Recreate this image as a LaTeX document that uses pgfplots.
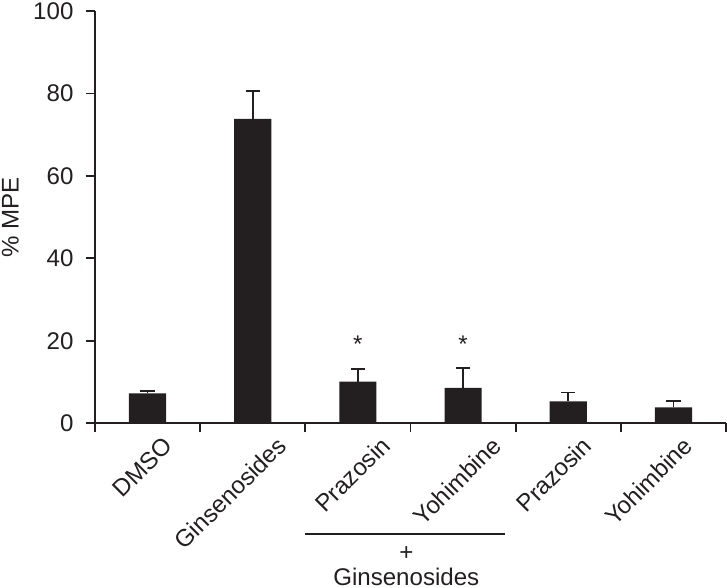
\documentclass[border=0pt]{standalone}
\usepackage{pgfplots}
\pgfplotsset{compat=1.18}
\usepackage{fontspec}
\setmainfont{Liberation Sans}
\definecolor{ink}{HTML}{231F20}
% shift a rotated tick label to the right by about sqrt(2)*#1
\newcommand\lab[2]{\raisebox{-#1}[0pt][0pt]{#2\hspace*{-#1}}}

\pgfplotstableread{
x  y     e
0  7.3   0.5
1  73.8  6.7
2  10.1  3.1
3  8.6   4.9
4  5.35  2.15
5  3.9   1.45
}\mpe

\begin{document}
\begin{tikzpicture}[font=\fontsize{12}{14}\selectfont]
\begin{axis}[
    scale only axis,
    width=314.5pt, height=205.5pt,
    xmin=-0.5, xmax=5.5,
    ymin=0, ymax=100,
    axis lines=left,
    axis line style={-, line width=0.9pt, ink},
    tick align=outside,
    major tick length=4.5pt,
    tick style={line width=0.9pt, ink},
    ytick={0,20,...,100},
    xtick={-0.5,0.5,...,5.5},
    x tick label as interval,
    xticklabels={\lab{9.4pt}{DMSO},\lab{12.5pt}{Ginsenosides},\lab{12pt}{Prazosin},\lab{14pt}{Yohimbine},\lab{8.8pt}{Prazosin},\lab{7.3pt}{Yohimbine},{}},
    ticklabel style={font=\fontsize{12}{14}\selectfont, text=ink},
    xticklabel style={yshift=-7.5pt, rotate=45, anchor=base east, inner sep=0pt},
    yticklabel style={inner sep=1.2pt, xshift=-4.8pt},
    /pgf/number format/assume math mode=true,
    ylabel={\% MPE},
    ylabel style={font=\fontsize{12}{14}\selectfont, text=ink, inner sep=1pt,
        at={(axis description cs:-0.151,0.5)}, anchor=north},
    ybar, bar width=18.5pt,
    clip=false,
]
\addplot[fill=ink, draw=none,
    error bars/.cd, y dir=plus, y explicit,
    error bar style={line width=0.9pt, ink},
    error mark options={rotate=90, mark size=3.5pt, line width=0.9pt, ink}]
    table[x=x, y=y, y error=e] {\mpe};
\node[anchor=base, text=ink] at (axis cs:2,17.3) {*};
\node[anchor=base, text=ink] at (axis cs:3,17.3) {*};
\draw[ink, line width=0.6pt] (axis cs:1.5,-26.8) -- (axis cs:3.4,-26.8);
\node[anchor=base, text=ink, inner sep=0pt] at (axis cs:2.46,-33.3) {+};
\node[anchor=base, text=ink, inner sep=1pt] at (axis cs:2.46,-39.3) {Ginsenosides};
\end{axis}
\end{tikzpicture}
\end{document}
